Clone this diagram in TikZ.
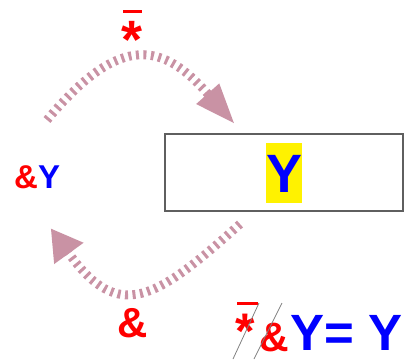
\documentclass[tikz,border=0pt]{standalone}
\usepackage{fontspec}
\setmainfont{Liberation Sans}
\usetikzlibrary{arrows.meta}
\definecolor{arccol}{RGB}{201,146,164}
\definecolor{boxgray}{RGB}{95,95,95}
\begin{document}
\begin{tikzpicture}[x=1pt,y=-1pt,
  lbl/.style={inner sep=0pt, anchor=base west},
  arcline/.style={draw=arccol, line width=9pt, dash pattern=on 3pt off 4.5pt},
  barline/.style={draw=red, line width=3pt},
  strike/.style={draw=gray, line width=0.8pt}]
\useasboundingbox (0,0) rectangle (405,360);
% box
\node[draw=boxgray, line width=1.3pt, minimum width=238pt, minimum height=77pt, inner sep=0pt] (B) at (284,172.5) {};
\node[lbl, fill=yellow, text height=48.9pt, text depth=11.4pt, text=blue,
  font=\fontsize{54}{60}\selectfont\bfseries] (Y) at (266,192) {Y};
% left label
\node[lbl, font=\fontsize{33}{38}\selectfont\bfseries] (L) at (14,188) {\textcolor{red}{\&}\textcolor{blue}{Y}};
% top label
\node[lbl, text=red, font=\fontsize{54}{60}\selectfont\bfseries] (S) at (121.5,58.5) {*};
\draw[barline] (123,11) -- (142,11);
% bottom label
\node[lbl, text=red, font=\fontsize{42}{48}\selectfont\bfseries] (A) at (117,337) {\&};
% equation
\node[lbl, text=red, font=\fontsize{50}{56}\selectfont\bfseries] (E1) at (235.5,348) {*};
\draw[barline] (237,303) -- (258,303);
\node[lbl, text=red, font=\fontsize{41}{46}\selectfont\bfseries] (E2) at (259,351) {\&};
\node[lbl, text=blue, font=\fontsize{51}{56}\selectfont\bfseries] (E3) at (290,350) {Y= Y};
\draw[strike] (233,359) -- (259,303);
\draw[strike] (254,359) -- (282,303);
% arcs
\coordinate (t0) at (47,120);
\coordinate (tb) at (207.5,93.5);
\coordinate (t1) at (235,124.3);
\coordinate (b0) at (240,224);
\coordinate (bb) at (68.8,253.3);
\coordinate (b1) at (50.7,228.3);
\draw[arcline, -{Triangle[length=41pt,width=28pt]}] (t0) .. controls (122,30) and (164.2,45) .. (tb) -- (t1);
\draw[arcline, -{Triangle[length=31pt,width=34pt]}] (b0) .. controls (154.7,301) and (118.6,322.2) .. (bb) -- (b1);
\end{tikzpicture}
\end{document}
